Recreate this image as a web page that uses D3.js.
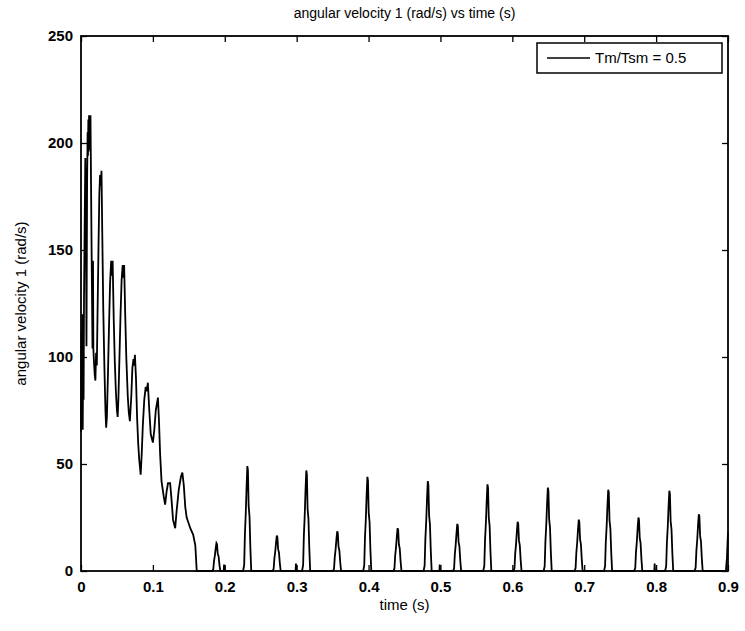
<!DOCTYPE html>
<html>
<head>
<meta charset="utf-8">
<script src="https://cdn.jsdelivr.net/npm/d3@7"></script>
<style>
  html, body { margin: 0; padding: 0; background: #fff; }
  svg text { font-family: "Liberation Sans", Arial, sans-serif; fill: #000; }
</style>
</head>
<body>
<svg id="chart" width="745" height="631"></svg>
<script>
// Angular velocity of shaft 1 during start-up: decaying oscillation, then periodic impacts.
// [time (s), angular velocity (rad/s)]
const startupPhase = [
  [0.0000, 65], [0.0006, 112], [0.0012, 72], [0.0018, 120], [0.0024, 66], [0.0030, 100],
  [0.0036, 80], [0.0042, 128], [0.0050, 158], [0.0060, 193], [0.0068, 168], [0.0076, 105],
  [0.0085, 182], [0.0092, 205], [0.0097, 194], [0.0102, 211], [0.0107, 196], [0.0112, 213],
  [0.0117, 197], [0.0122, 213], [0.0127, 199], [0.0132, 213], [0.0140, 180], [0.0150, 140],
  [0.0160, 104], [0.0167, 145], [0.0172, 104], [0.0180, 98], [0.0190, 92], [0.0200, 89],
  [0.0210, 102], [0.0220, 96], [0.0230, 120], [0.0245, 155], [0.0255, 176], [0.0265, 185],
  [0.0275, 180], [0.0285, 187], [0.0295, 160], [0.0310, 122], [0.0325, 96], [0.0340, 75],
  [0.0350, 67], [0.0360, 72], [0.0375, 92], [0.0390, 115], [0.0405, 135], [0.0420, 145],
  [0.0430, 138], [0.0440, 145], [0.0455, 118], [0.0470, 98], [0.0485, 84], [0.0500, 75],
  [0.0510, 72], [0.0520, 80], [0.0535, 100], [0.0550, 120], [0.0565, 136], [0.0580, 143],
  [0.0590, 137], [0.0600, 143], [0.0615, 120], [0.0630, 100], [0.0650, 82], [0.0665, 74],
  [0.0680, 70], [0.0700, 82], [0.0715, 95], [0.0730, 99], [0.0740, 96], [0.0750, 101],
  [0.0765, 90], [0.0780, 72], [0.0795, 60], [0.0810, 52], [0.0830, 45], [0.0845, 55],
  [0.0860, 68], [0.0880, 80], [0.0900, 86], [0.0915, 84], [0.0930, 88], [0.0950, 75],
  [0.0970, 64], [0.1000, 60], [0.1020, 66], [0.1040, 75], [0.1060, 79], [0.1070, 81],
  [0.1085, 70], [0.1100, 55], [0.1120, 42], [0.1150, 35], [0.1170, 31], [0.1190, 37],
  [0.1210, 41], [0.1240, 41], [0.1260, 33], [0.1280, 24], [0.1310, 20], [0.1330, 28],
  [0.1360, 38], [0.1390, 44], [0.1410, 46], [0.1430, 40], [0.1450, 30], [0.1470, 25],
  [0.1490, 23], [0.1520, 20], [0.1560, 17], [0.1590, 12], [0.1610, 0]
];

// Impact pulses after the shaft settles (small and large pulses alternate).
const impactPhase = [
  [0.1825, 0], [0.1840, 0.8], [0.1850, 4.6], [0.1862, 7.2], [0.1874, 10.7], [0.1884, 13], [0.1892, 12.5], [0.1902, 8.1], [0.1914, 6.8], [0.1926, 2.9], [0.1938, 0],
  [0.1985, 0], [0.1990, 3], [0.1995, 0],
  [0.2255, 0], [0.2270, 2.9], [0.2280, 17.2], [0.2292, 27], [0.2304, 40.2], [0.2314, 49], [0.2322, 47], [0.2332, 30.4], [0.2344, 25.5], [0.2356, 10.8], [0.2368, 0],
  [0.2665, 0], [0.2680, 1], [0.2690, 5.8], [0.2702, 9.1], [0.2714, 13.5], [0.2724, 16.5], [0.2732, 15.8], [0.2742, 10.2], [0.2754, 8.6], [0.2766, 3.6], [0.2778, 0],
  [0.2985, 0], [0.2990, 3.5], [0.2995, 0],
  [0.3075, 0], [0.3090, 2.8], [0.3100, 16.5], [0.3112, 25.9], [0.3124, 38.5], [0.3134, 47], [0.3142, 45.1], [0.3152, 29.1], [0.3164, 24.4], [0.3176, 10.3], [0.3188, 0],
  [0.3505, 0], [0.3520, 1.1], [0.3530, 6.5], [0.3542, 10.2], [0.3554, 15.2], [0.3564, 18.5], [0.3572, 17.8], [0.3582, 11.5], [0.3594, 9.6], [0.3606, 4.1], [0.3618, 0],
  [0.3925, 0], [0.3940, 2.6], [0.3950, 15.4], [0.3962, 24.2], [0.3974, 36.1], [0.3984, 44], [0.3992, 42.2], [0.4002, 27.3], [0.4014, 22.9], [0.4026, 9.7], [0.4038, 0],
  [0.4345, 0], [0.4360, 1.2], [0.4370, 7], [0.4382, 11], [0.4394, 16.4], [0.4404, 20], [0.4412, 19.2], [0.4422, 12.4], [0.4434, 10.4], [0.4446, 4.4], [0.4458, 0],
  [0.4765, 0], [0.4780, 2.5], [0.4790, 14.7], [0.4802, 23.1], [0.4814, 34.4], [0.4824, 42], [0.4832, 40.3], [0.4842, 26], [0.4854, 21.8], [0.4866, 9.2], [0.4878, 0],
  [0.4985, 0], [0.4990, 3], [0.4995, 0],
  [0.5175, 0], [0.5190, 1.3], [0.5200, 7.7], [0.5212, 12.1], [0.5224, 18], [0.5234, 22], [0.5242, 21.1], [0.5252, 13.6], [0.5264, 11.4], [0.5276, 4.8], [0.5288, 0],
  [0.5595, 0], [0.5610, 2.4], [0.5620, 14.2], [0.5632, 22.3], [0.5644, 33.2], [0.5654, 40.5], [0.5662, 38.9], [0.5672, 25.1], [0.5684, 21.1], [0.5696, 8.9], [0.5708, 0],
  [0.6015, 0], [0.6030, 1.4], [0.6040, 8.1], [0.6052, 12.7], [0.6064, 18.9], [0.6074, 23], [0.6082, 22.1], [0.6092, 14.3], [0.6104, 12], [0.6116, 5.1], [0.6128, 0],
  [0.6435, 0], [0.6450, 2.3], [0.6460, 13.7], [0.6472, 21.5], [0.6484, 32], [0.6494, 39], [0.6502, 37.4], [0.6512, 24.2], [0.6524, 20.3], [0.6536, 8.6], [0.6548, 0],
  [0.6865, 0], [0.6880, 1.4], [0.6890, 8.4], [0.6902, 13.2], [0.6914, 19.7], [0.6924, 24], [0.6932, 23], [0.6942, 14.9], [0.6954, 12.5], [0.6966, 5.3], [0.6978, 0],
  [0.7275, 0], [0.7290, 2.3], [0.7300, 13.3], [0.7312, 20.9], [0.7324, 31.2], [0.7334, 38], [0.7342, 36.5], [0.7352, 23.6], [0.7364, 19.8], [0.7376, 8.4], [0.7388, 0],
  [0.7695, 0], [0.7710, 1.5], [0.7720, 8.8], [0.7732, 13.8], [0.7744, 20.5], [0.7754, 25], [0.7762, 24], [0.7772, 15.5], [0.7784, 13], [0.7796, 5.5], [0.7808, 0],
  [0.7975, 0], [0.7980, 3.5], [0.7985, 0],
  [0.8125, 0], [0.8140, 2.3], [0.8150, 13.1], [0.8162, 20.6], [0.8174, 30.8], [0.8184, 37.5], [0.8192, 36], [0.8202, 23.3], [0.8214, 19.5], [0.8226, 8.3], [0.8238, 0],
  [0.8535, 0], [0.8550, 1.6], [0.8560, 9.3], [0.8572, 14.6], [0.8584, 21.7], [0.8594, 26.5], [0.8602, 25.4], [0.8612, 16.4], [0.8624, 13.8], [0.8636, 5.8], [0.8648, 0],
  [0.8970, 0], [0.8985, 6], [0.9000, 18]
];

const xTicks = [0, 0.1, 0.2, 0.3, 0.4, 0.5, 0.6, 0.7, 0.8, 0.9];
const yTicks = [0, 50, 100, 150, 200, 250];
const xTickLabels = ["0", "0.1", "0.2", "0.3", "0.4", "0.5", "0.6", "0.7", "0.8", "0.9"];
const yTickLabels = ["0", "50", "100", "150", "200", "250"];
const legendLabel = "Tm/Tsm = 0.5";

const svg = d3.select("#chart");
const box = { left: 81, right: 728, top: 36, bottom: 571 };

const x = d3.scaleLinear().domain([0, 0.9]).range([box.left, box.right]);
const y = d3.scaleLinear().domain([0, 250]).range([box.bottom, box.top]);

const series = startupPhase.concat(impactPhase);

// trace
const line = d3.line().x(d => x(d[0])).y(d => y(d[1]));
svg.append("path")
  .datum(series)
  .attr("d", line)
  .attr("fill", "none")
  .attr("stroke", "#000")
  .attr("stroke-width", 1.8)
  .attr("stroke-linejoin", "miter");

// axes with inward ticks on every side
const tickLen = 6;
const fmtX = (d, i) => xTickLabels[i];
const fmtY = (d, i) => yTickLabels[i];

const bottomAxis = svg.append("g").attr("transform", `translate(0,${box.bottom})`)
  .call(d3.axisBottom(x).tickValues(xTicks).tickFormat(fmtX).tickSizeInner(-tickLen).tickSizeOuter(0).tickPadding(10));
const topAxis = svg.append("g").attr("transform", `translate(0,${box.top})`)
  .call(d3.axisTop(x).tickValues(xTicks).tickFormat("").tickSizeInner(-tickLen).tickSizeOuter(0));
const leftAxis = svg.append("g").attr("transform", `translate(${box.left},0)`)
  .call(d3.axisLeft(y).tickValues(yTicks).tickFormat(fmtY).tickSizeInner(-tickLen).tickSizeOuter(0).tickPadding(8));
const rightAxis = svg.append("g").attr("transform", `translate(${box.right},0)`)
  .call(d3.axisRight(y).tickValues(yTicks).tickFormat("").tickSizeInner(-tickLen).tickSizeOuter(0));

[bottomAxis, topAxis, leftAxis, rightAxis].forEach(g => {
  g.select(".domain").remove();
  g.selectAll(".tick line").attr("stroke", "#000").attr("stroke-width", 1.3);
  g.selectAll(".tick text")
    .attr("font-size", 15)
    .attr("font-weight", "bold")
    .style("font-family", '"Liberation Sans", Arial, sans-serif');
});

// plot frame
svg.append("rect")
  .attr("x", box.left).attr("y", box.top)
  .attr("width", box.right - box.left).attr("height", box.bottom - box.top)
  .attr("fill", "none").attr("stroke", "#000").attr("stroke-width", 1.8);

// title and axis labels
svg.append("text")
  .attr("x", (box.left + box.right) / 2).attr("y", 18)
  .attr("text-anchor", "middle").attr("font-size", 14)
  .text("angular velocity 1 (rad/s) vs time (s)");

svg.append("text")
  .attr("x", (box.left + box.right) / 2).attr("y", 610)
  .attr("text-anchor", "middle").attr("font-size", 15)
  .text("time (s)");

svg.append("text")
  .attr("transform", `translate(26,${(box.top + box.bottom) / 2}) rotate(-90)`)
  .attr("text-anchor", "middle").attr("font-size", 15)
  .text("angular velocity 1 (rad/s)");

// legend
const lg = svg.append("g");
lg.append("rect")
  .attr("x", 537).attr("y", 43).attr("width", 185).attr("height", 30)
  .attr("fill", "#fff").attr("stroke", "#000").attr("stroke-width", 1.5);
lg.append("line")
  .attr("x1", 547).attr("x2", 590).attr("y1", 58).attr("y2", 58)
  .attr("stroke", "#000").attr("stroke-width", 1.6);
lg.append("text")
  .attr("x", 595).attr("y", 63).attr("font-size", 15)
  .text(legendLabel);
</script>
</body>
</html>
